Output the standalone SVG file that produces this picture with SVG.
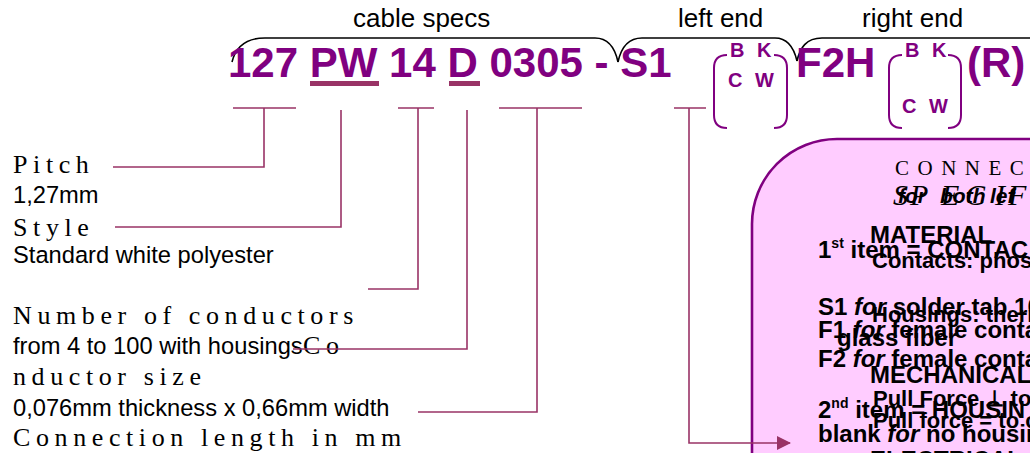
<svg xmlns="http://www.w3.org/2000/svg" width="1030" height="453" viewBox="0 0 1030 453">
<style>
.code{font-family:"Liberation Sans",Arial,sans-serif;font-weight:bold;fill:#800080}
.sm{font-family:"Liberation Sans",Arial,sans-serif;font-weight:bold;fill:#800080;font-size:20px;letter-spacing:3.5px}
.hdr{font-family:"Liberation Sans",Arial,sans-serif;font-size:26px;fill:#000}
.ser{font-family:"Liberation Serif","Times New Roman",serif;font-size:26px;letter-spacing:5.6px;fill:#000}
.sans{font-family:"Liberation Sans",Arial,sans-serif;font-size:23.7px;fill:#000}
.b{font-family:"Liberation Sans",Arial,sans-serif;font-weight:bold;font-size:24px;fill:#000}
.b22{font-family:"Liberation Sans",Arial,sans-serif;font-weight:bold;font-size:22px;fill:#000}
.conn{fill:none;stroke:#993366;stroke-width:1.6}
.brace{fill:none;stroke:#000;stroke-width:1.6}
.brk{fill:none;stroke:#800080;stroke-width:2}
.ul{fill:#993366}
</style>
<defs>
<marker id="arr" markerWidth="14" markerHeight="14" refX="13" refY="7" orient="auto" markerUnits="userSpaceOnUse">
<path d="M0,0 L14,7 L0,14 z" fill="#993366"/>
</marker>
</defs>

<g id="braces">
<path class="brace" d="M232,62 C236,46 248,38 265,38 L595,38 C608,38 615,48 618,62"/>
<path class="brace" d="M618,62 C621,48 628,38 642,38 L775,38 C788,38 794,48 797,61"/>
<path class="brace" d="M797,61 C800,48 806,38 822,38 L1035,38"/>
</g>

<g id="headers">
<text class="hdr" x="353" y="27">cable specs</text>
<text class="hdr" x="678" y="27">left end</text>
<text class="hdr" x="862" y="27">right end</text>
</g>

<g id="code">
<text class="code" x="228" y="77" font-size="42">127 PW 14 D 0305 - S1</text>
<rect class="ul" x="310" y="81" width="69" height="5"/>
<rect class="ul" x="449" y="81" width="31" height="5"/>
<text class="code" x="796" y="77" font-size="42">F2H</text>
<text class="code" x="967" y="77" font-size="42">(R)</text>
</g>

<g id="left-options">
<path class="brk" d="M727,55 Q714,55 714,68 L714,115 Q714,128 727,128"/>
<path class="brk" d="M774,55 Q787,55 787,68 L787,115 Q787,128 774,128"/>
<text class="sm" x="730" y="57">B K</text>
<text class="sm" x="728" y="87">C W</text>
</g>

<g id="right-options">
<path class="brk" d="M902,55 Q889,55 889,68 L889,115 Q889,128 902,128"/>
<path class="brk" d="M948,55 Q961,55 961,68 L961,115 Q961,128 948,128"/>
<text class="sm" x="905" y="57">B K</text>
<text class="sm" x="902" y="113">C W</text>
</g>

<g id="label-pitch">
<text class="ser" x="13" y="173">Pitch</text>
<text class="sans" x="13" y="203">1,27mm</text>
</g>
<g id="label-style">
<text class="ser" x="13" y="236">Style</text>
<text class="sans" x="13" y="263">Standard white polyester</text>
</g>
<g id="label-number">
<text class="ser" x="13" y="324">Number of conductors</text>
<text class="sans" x="13" y="354">from 4 to 100 with housings</text>
</g>
<g id="label-size">
<text class="ser" x="303" y="354">Co</text>
<text class="ser" x="13" y="385">nductor size</text>
<text class="sans" x="13" y="416">0,076mm thickness x 0,66mm width</text>
</g>
<g id="label-length">
<text class="ser" x="13" y="446">Connection length in mm</text>
</g>

<g id="connector-box">
<rect x="752" y="139" width="420" height="420" rx="85" ry="85" fill="#FFCCFF" stroke="#800080" stroke-width="2.6"/>
<text x="895" y="175" font-family="Liberation Serif,'Times New Roman',serif" font-size="21" letter-spacing="8.5" fill="#000">CONNEC</text>
<text y="205" font-family="Liberation Serif,'Times New Roman',serif" font-style="italic" font-size="30" fill="#000" x="893 910 941 965 995 1008">SPECIF</text>
<text y="203" font-family="Liberation Sans,Arial,sans-serif" font-weight="bold" font-style="italic" font-size="21" fill="#000"><tspan x="898">for</tspan><tspan x="940">both</tspan><tspan x="990">lef</tspan></text>
<text class="b" x="870" y="243" font-size="24">MATERIAL</text>
<text class="b" x="818" y="258">1<tspan font-size="14" dy="-10">st</tspan><tspan dy="10"> item = CONTAC</tspan></text>
<text class="b22" x="872" y="268">Contacts: phosp</text>
<text class="b" x="818" y="315">S1 <tspan font-style="italic">for</tspan> solder tab 10</text>
<text class="b22" x="872" y="322">Housings: therm</text>
<text class="b" x="818" y="338">F1 <tspan font-style="italic">for</tspan> female conta</text>
<text class="b" x="837" y="346" font-size="20">glass fiber</text>
<text class="b" x="818" y="367">F2 <tspan font-style="italic">for</tspan> female conta</text>
<text class="b" x="870" y="383" font-size="24">MECHANICAL</text>
<text class="b22" x="873" y="406">Pull Force ⊥ to c</text>
<text class="b" x="818" y="418">2<tspan font-size="14" dy="-10">nd</tspan><tspan dy="10"> item = HOUSIN</tspan></text>
<text class="b22" x="873" y="428">Pull force = to c</text>
<text class="b" x="818" y="442">blank <tspan font-style="italic">for</tspan> no housin</text>
<text class="b" x="870" y="468" font-size="24">ELECTRICAL</text>
</g>

<g id="connectors">
<path class="conn" d="M233,108 H296 M264,108 V167 H113"/>
<path class="conn" d="M341,110 V227 H115"/>
<path class="conn" d="M398,108 H434 M418,108 V289 H368"/>
<path class="conn" d="M467,110 V349 H293"/>
<path class="conn" d="M499,108 H582 M537,108 V412 H418"/>
<path class="conn" d="M674,108 H706 M689,108 V443 H790" marker-end="url(#arr)"/>
</g>
</svg>
